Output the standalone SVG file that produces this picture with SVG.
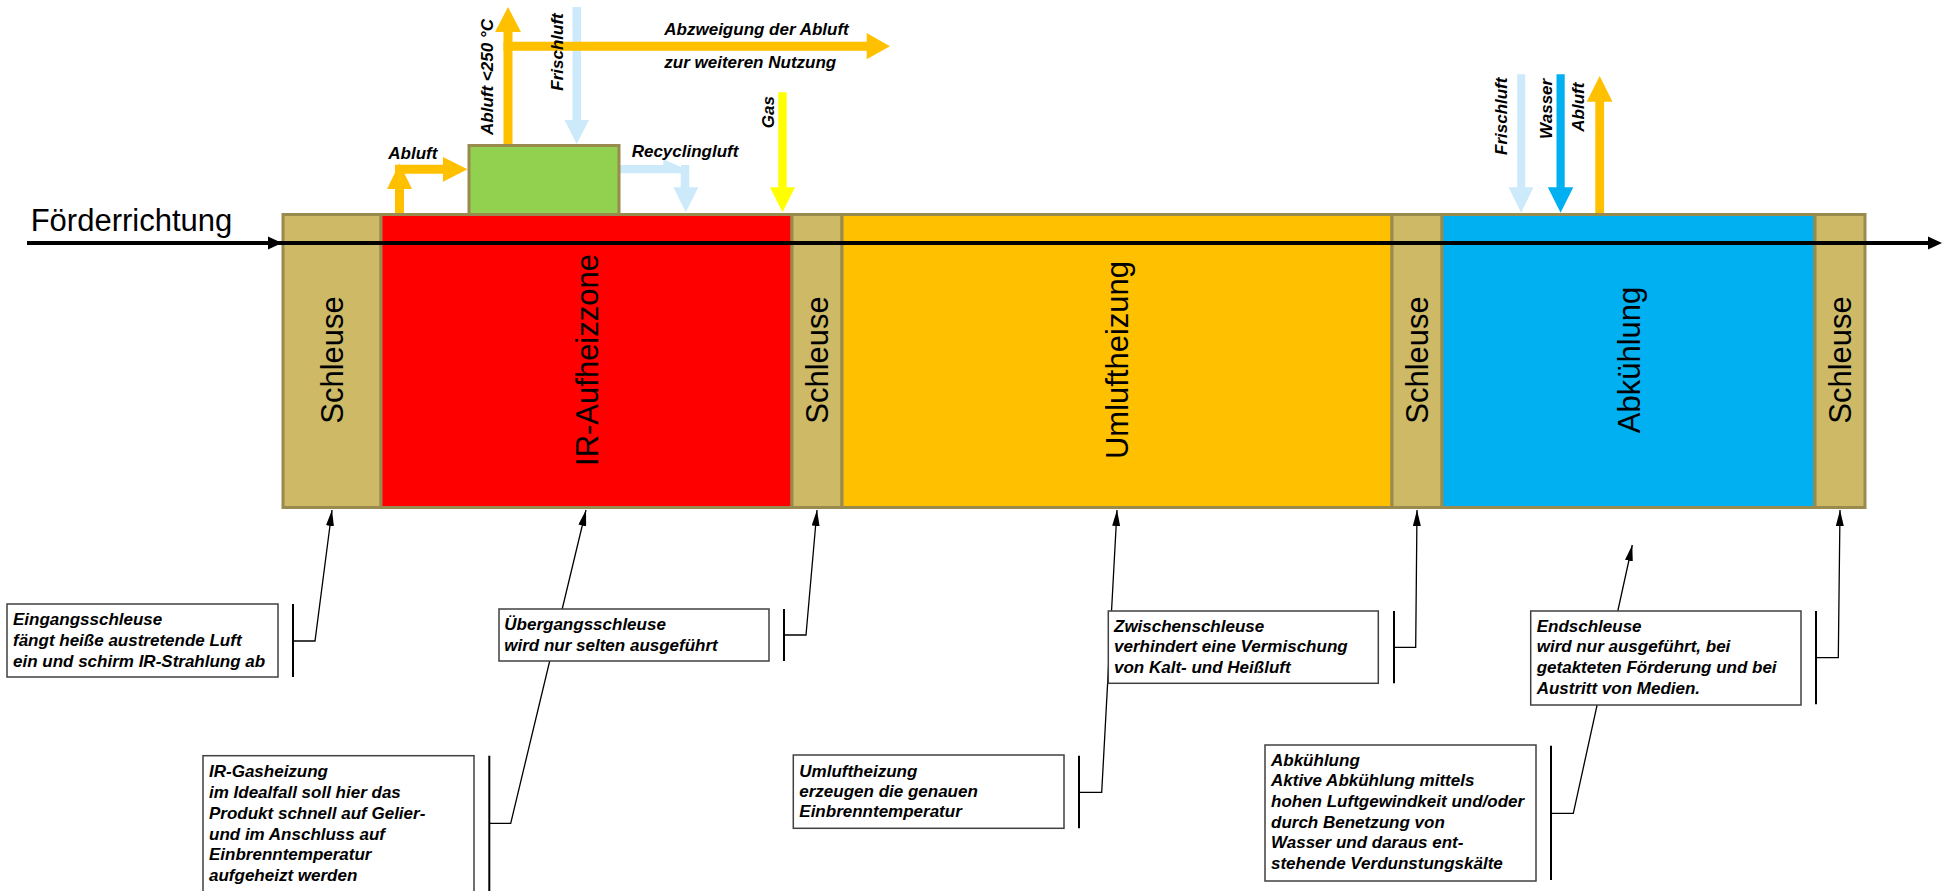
<svg xmlns="http://www.w3.org/2000/svg" width="1943" height="891" viewBox="0 0 1943 891">
<defs>
<style>
.lb{font-family:"Liberation Sans",Arial,sans-serif;font-weight:bold;font-style:italic;font-size:17px;fill:#000}
.zl{font-family:"Liberation Sans",Arial,sans-serif;font-size:31px;fill:#000}
.zone{stroke:#998a4e;stroke-width:3}
.box{fill:#fff;stroke:#404040;stroke-width:1.5}
.brk{stroke:#000;stroke-width:2;fill:none}
.ldr{stroke:#000;stroke-width:1.3;fill:none;marker-end:url(#ah)}
.or{fill:#ffc000}
.lblue{fill:#cdeafb}
.wblue{fill:#00b0f0}
.yel{fill:#ffff00}
</style>
<marker id="ah" markerUnits="userSpaceOnUse" markerWidth="16" markerHeight="8" refX="16" refY="4" orient="auto">
<path d="M0,0 L16,4 L0,8 z" fill="#000"/>
</marker>
</defs>
<rect width="1943" height="891" fill="#fff"/>

<g id="band">
<g id="schleuse1"><rect class="zone" x="283" y="214.5" width="98" height="293" fill="#cdb966"/><text class="zl" text-anchor="middle" transform="translate(343,360) rotate(-90)">Schleuse</text></g>
<g id="ir-zone"><rect class="zone" x="381" y="214.5" width="411" height="293" fill="#ff0000"/><text class="zl" text-anchor="middle" transform="translate(598,360) rotate(-90)">IR-Aufheizzone</text></g>
<g id="schleuse2"><rect class="zone" x="792" y="214.5" width="50" height="293" fill="#cdb966"/><text class="zl" text-anchor="middle" transform="translate(828,360) rotate(-90)">Schleuse</text></g>
<g id="umluft"><rect class="zone" x="842" y="214.5" width="550" height="293" fill="#ffc000"/><text class="zl" text-anchor="middle" transform="translate(1128,360) rotate(-90)">Umluftheizung</text></g>
<g id="schleuse3"><rect class="zone" x="1392" y="214.5" width="50" height="293" fill="#cdb966"/><text class="zl" text-anchor="middle" transform="translate(1428,360) rotate(-90)">Schleuse</text></g>
<g id="abkuehlung"><rect class="zone" x="1442" y="214.5" width="373" height="293" fill="#00b0f0"/><text class="zl" text-anchor="middle" transform="translate(1640,360) rotate(-90)">Abkühlung</text></g>
<g id="schleuse4"><rect class="zone" x="1815" y="214.5" width="50" height="293" fill="#cdb966"/><text class="zl" text-anchor="middle" transform="translate(1851,360) rotate(-90)">Schleuse</text></g>
</g>

<g id="connectors">
<!-- conveyor -->
<line x1="27" y1="243" x2="1930" y2="243" stroke="#000" stroke-width="4"/>
<polygon points="268,236.5 268,249.5 282,243" fill="#000"/>
<polygon points="1928,236.5 1928,249.5 1942,243" fill="#000"/>
<!-- Frischluft top (under orange) -->
<path class="lblue" d="M572.5,7 H581 V120 H589 L576.7,144 L564.5,120 H572.5 Z"/>
<!-- Abluft small -->
<path class="or" d="M395,213 V189 H387 L399.5,163.5 L412,189 H404 V213 Z"/>
<path class="or" d="M395,164.8 H443 V157 L467.5,169.3 L443,181.7 V173.8 H395 Z"/>
<!-- Abluft <250 up -->
<path class="or" d="M503.5,146 V32 H495 L508,7 L521,32 H512.5 V146 Z"/>
<!-- Abzweigung right -->
<path class="or" d="M503.5,41.7 H866.7 V33 L890,46.2 L866.7,59.3 V50.7 H503.5 Z"/>
<!-- Recyclingluft -->
<path class="lblue" d="M619,165 H663.3 V159.3 L681,167 V165 H689.3 V187.3 H698.3 L685.8,212.3 L673.3,187.3 H680.7 V173.3 H619 Z"/>
<!-- Gas -->
<path class="yel" d="M778.3,92.3 H786.7 V187.3 H795 L782.5,212.3 L770,187.3 H778.3 Z"/>
<!-- right side -->
<path class="lblue" d="M1517.2,74.3 H1525.2 V187.3 H1533.5 L1521.2,212.7 L1508.5,187.3 H1517.2 Z"/>
<path class="wblue" d="M1556.5,74.3 H1564.7 V187.3 H1573.3 L1560.6,212.7 L1547.8,187.3 H1556.5 Z"/>
<path class="or" d="M1595.3,213 V101.7 H1586.7 L1599.7,76 L1612.5,101.7 H1604.1 V213 Z"/>
<!-- annotation leaders -->
<line class="brk" x1="293" y1="604" x2="293" y2="677"/>
<path class="ldr" d="M293,641 H315 L332,510"/>
<line class="brk" x1="784" y1="609" x2="784" y2="661"/>
<path class="ldr" d="M784,635 H806 L817,510"/>
<line class="brk" x1="489.3" y1="755.7" x2="489.3" y2="891"/>
<path class="ldr" d="M489.3,823.3 H510.7 L586,510"/>
<line class="brk" x1="1079" y1="755.7" x2="1079" y2="828.3"/>
<path class="ldr" d="M1079,792.3 H1101.7 L1117,510"/>
<line class="brk" x1="1394" y1="611" x2="1394" y2="683.3"/>
<path class="ldr" d="M1394,647.3 H1415.7 L1417,510"/>
<line class="brk" x1="1551" y1="745.7" x2="1551" y2="880"/>
<path class="ldr" d="M1551,813.3 H1573.3 L1632.3,545"/>
<line class="brk" x1="1816" y1="611" x2="1816" y2="704.3"/>
<path class="ldr" d="M1816,657.7 H1838.3 L1840,510"/>
</g>

<g id="mixer"><rect x="469" y="145.5" width="150" height="69" fill="#92d050" stroke="#998a4e" stroke-width="3"/></g>

<g id="flow-labels">
<text class="lb" x="388.3" y="159">Abluft</text>
<text class="lb" x="631.7" y="156.7">Recyclingluft</text>
<text class="lb" x="664.3" y="35">Abzweigung der Abluft</text>
<text class="lb" x="664.3" y="67.5">zur weiteren Nutzung</text>
<text class="lb" transform="translate(493.3,135) rotate(-90)">Abluft &lt;250 °C</text>
<text class="lb" transform="translate(562.7,90.7) rotate(-90)">Frischluft</text>
<text class="lb" transform="translate(774.3,128.3) rotate(-90)">Gas</text>
<text class="lb" transform="translate(1506.7,155) rotate(-90)">Frischluft</text>
<text class="lb" transform="translate(1551.7,139) rotate(-90)">Wasser</text>
<text class="lb" transform="translate(1584,131.7) rotate(-90)">Abluft</text>
</g>

<g id="foerderrichtung"><text class="zl" x="30.7" y="231">Förderrichtung</text></g>

<g id="note-eingang">
<rect class="box" x="7" y="604" width="271" height="73"/>
<text class="lb" x="13" y="625">Eingangsschleuse</text>
<text class="lb" x="13" y="646">fängt heiße austretende Luft</text>
<text class="lb" x="13" y="667">ein und schirm IR-Strahlung ab</text>
</g>
<g id="note-uebergang">
<rect class="box" x="499" y="609" width="270" height="52"/>
<text class="lb" x="504.3" y="630">Übergangsschleuse</text>
<text class="lb" x="504.3" y="651">wird nur selten ausgeführt</text>
</g>
<g id="note-irgas">
<rect class="box" x="203" y="755.7" width="271" height="140"/>
<text class="lb" x="209" y="777">IR-Gasheizung</text>
<text class="lb" x="209" y="798">im Idealfall soll hier das</text>
<text class="lb" x="209" y="818.7">Produkt schnell auf Gelier-</text>
<text class="lb" x="209" y="839.5">und im Anschluss auf</text>
<text class="lb" x="209" y="860.3">Einbrenntemperatur</text>
<text class="lb" x="209" y="881">aufgeheizt werden</text>
</g>
<g id="note-umluft">
<rect class="box" x="793.3" y="755" width="270.7" height="73.3"/>
<text class="lb" x="799.3" y="776.7">Umluftheizung</text>
<text class="lb" x="799.3" y="797">erzeugen die genauen</text>
<text class="lb" x="799.3" y="817.3">Einbrenntemperatur</text>
</g>
<g id="note-zwischen">
<rect class="box" x="1108.3" y="611" width="270" height="72.3"/>
<text class="lb" x="1114" y="631.7">Zwischenschleuse</text>
<text class="lb" x="1114" y="652.3">verhindert eine Vermischung</text>
<text class="lb" x="1114" y="672.7">von Kalt- und Heißluft</text>
</g>
<g id="note-abkuehlung">
<rect class="box" x="1265" y="745" width="271" height="136"/>
<text class="lb" x="1271" y="765.7">Abkühlung</text>
<text class="lb" x="1271" y="786.3">Aktive Abkühlung mittels</text>
<text class="lb" x="1271" y="807">hohen Luftgewindkeit und/oder</text>
<text class="lb" x="1271" y="827.7">durch Benetzung von</text>
<text class="lb" x="1271" y="848.3">Wasser und daraus ent-</text>
<text class="lb" x="1271" y="869">stehende Verdunstungskälte</text>
</g>
<g id="note-end">
<rect class="box" x="1530.7" y="611" width="270.3" height="94"/>
<text class="lb" x="1536.7" y="631.7">Endschleuse</text>
<text class="lb" x="1536.7" y="652.3">wird nur ausgeführt, bei</text>
<text class="lb" x="1536.7" y="673">getakteten Förderung und bei</text>
<text class="lb" x="1536.7" y="693.7">Austritt von Medien.</text>
</g>
</svg>
